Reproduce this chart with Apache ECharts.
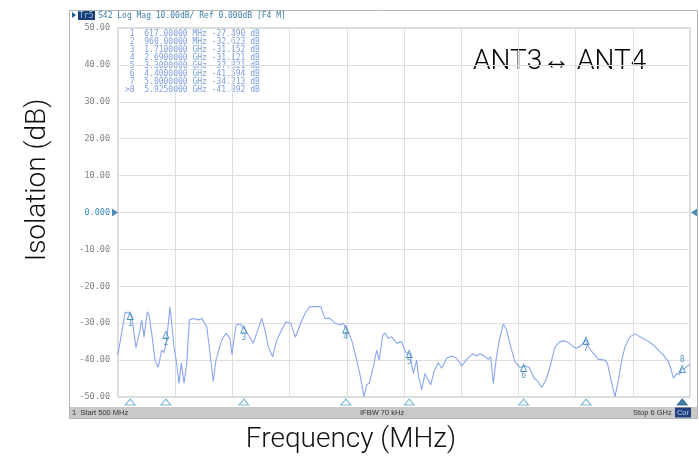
<!DOCTYPE html>
<html>
<head>
<meta charset="utf-8">
<script src="https://cdn.jsdelivr.net/npm/echarts@6/dist/echarts.min.js"></script>
<style>html,body{margin:0;padding:0;background:#fff}#c{width:699px;height:462px}</style>
</head>
<body>
<div id="c"></div>
<script>
// ---- data ----
const freqMHz = [500,567,599,632,673,712,728,750,782,801,824,856,887,920,942,968,1000,1016,1038,1064,1087,1109,1135,1161,1186,1224,1272,1305,1353,1385,1416,1442,1497,1538,1577,1596,1635,1673,1712,1753,1801,1834,1882,1913,1945,1987,2026,2074,2115,2161,2205,2250,2298,2346,2394,2449,2490,2538,2586,2635,2666,2699,2747,2795,2827,2865,2891,2916,2955,2987,3012,3045,3067,3099,3132,3180,3228,3260,3308,3339,3372,3387,3420,3452,3474,3507,3538,3580,3612,3660,3709,3757,3805,3853,3910,3949,3981,4019,4060,4083,4109,4135,4166,4205,4237,4276,4317,4365,4413,4455,4500,4526,4574,4615,4654,4702,4750,4798,4839,4878,4910,4958,5000,5023,5071,5119,5183,5206,5248,5279,5311,5344,5375,5423,5471,5519,5583,5647,5696,5744,5792,5815,5841,5873,5898,5921,5953,5985,6000];
const isoDB = [-38.5,-27.2,-27.0,-28.2,-36.7,-31.8,-29.1,-33.7,-26.9,-28.2,-32.7,-40.0,-42.0,-37.3,-38.0,-34.6,-25.5,-30.0,-36.4,-40.9,-46.3,-40.7,-46.3,-40.9,-29.1,-28.7,-29.1,-28.7,-30.9,-38.2,-45.8,-40.0,-34.6,-32.7,-34.1,-38.5,-30.5,-30.2,-31.4,-33.2,-35.4,-32.7,-28.7,-31.8,-36.4,-39.1,-34.6,-31.8,-29.6,-30.0,-33.8,-30.5,-27.3,-25.5,-25.5,-25.5,-28.7,-28.7,-30.0,-30.5,-30.0,-31.8,-34.6,-40.0,-44.0,-49.9,-46.7,-46.3,-41.8,-37.3,-40.0,-33.2,-32.7,-34.1,-33.7,-35.4,-35.0,-37.7,-38.5,-43.6,-40.0,-44.0,-48.1,-43.6,-44.9,-46.7,-43.1,-40.7,-42.2,-39.5,-38.9,-39.5,-41.6,-39.8,-38.3,-38.9,-38.3,-38.9,-39.8,-39.1,-46.3,-40.0,-34.6,-30.2,-31.8,-36.4,-40.4,-42.0,-41.6,-42.0,-44.9,-45.4,-47.4,-45.4,-41.8,-36.4,-35.0,-34.8,-35.4,-36.4,-36.8,-35.9,-34.5,-36.4,-38.2,-39.8,-40.0,-40.9,-46.3,-49.9,-45.4,-40.0,-36.4,-33.7,-32.9,-33.7,-34.6,-35.9,-37.3,-38.6,-40.4,-42.2,-44.9,-43.6,-44.0,-42.4,-42.2,-41.3,-41.5];
const markerNo = [1,2,3,4,5,6,7,8];
const markerFreq = [617,960,1710,2690,3300,4400,5000,5925];
const markerVal = [-27.490,-32.623,-31.152,-31.121,-37.821,-41.594,-34.213,-41.892];
const activeMarker = 8;
const yMin = -50, yMax = 50, yStep = 10;
const xStart = 500, xStop = 6000;
const headerText = 'S42 Log Mag 10.00dB/ Ref 0.000dB [F4 M]';
const traceName = 'Tr5';
const statusLeft = '1  Start 500 MHz', statusMid = 'IFBW 70 kHz', statusRight = 'Stop 6 GHz', statusCor = 'Cor';
const titleY = 'Isolation (dB)', titleX = 'Frequency (MHz)', annot = 'ANT3\u2194 ANT4';

// ---- chart ----
const chart = echarts.init(document.getElementById('c'), null, {renderer: 'canvas'});
const traceData = freqMHz.map((f, i) => [f, isoDB[i]]);
const mono = '"DejaVu Sans Mono", monospace';
const markerColor = '#2f7fb3';

function fmtFreq(f) {
  return f < 1000 ? f.toFixed(5) + ' MHz' : (f / 1000).toFixed(7) + ' GHz';
}
const tableLines = markerNo.map((n, i) =>
  (n === activeMarker ? '>' + n : ' ' + n) + '  ' + fmtFreq(markerFreq[i]) + ' ' + markerVal[i].toFixed(3) + ' dB');

const graphics = [
  {type: 'rect', shape: {x: 69.5, y: 10.5, width: 628, height: 408}, style: {fill: 'none', stroke: '#b4b4b4', lineWidth: 1}, z: 0, silent: true},
  // header
  {type: 'polygon', shape: {points: [[72, 12], [76, 15], [72, 18]]}, style: {fill: '#1f5f95'}},
  {type: 'rect', shape: {x: 78, y: 11, width: 17, height: 9}, style: {fill: '#1c3f78'}},
  {type: 'text', x: 79, y: 15.5, style: {text: traceName, font: '8px ' + mono, fill: '#9cc4ee', verticalAlign: 'middle'}},
  {type: 'text', x: 98, y: 15.5, style: {text: headerText, font: '8px ' + mono, fill: '#3d7fa8', verticalAlign: 'middle'}},
  // status bar
  {type: 'rect', shape: {x: 70, y: 407, width: 627, height: 11}, style: {fill: '#c9c9c9'}},
  {type: 'text', x: 72, y: 412.5, style: {text: statusLeft, font: '7.5px "Liberation Sans", sans-serif', fill: '#333', verticalAlign: 'middle'}},
  {type: 'text', x: 360, y: 412.5, style: {text: statusMid, font: '7.5px "Liberation Sans", sans-serif', fill: '#333', verticalAlign: 'middle'}},
  {type: 'text', x: 633, y: 412.5, style: {text: statusRight, font: '7.5px "Liberation Sans", sans-serif', fill: '#333', verticalAlign: 'middle'}},
  {type: 'rect', shape: {x: 675, y: 407.5, width: 16, height: 10}, style: {fill: '#23407e'}},
  {type: 'text', x: 683, y: 412.5, style: {text: statusCor, font: '7.5px "Liberation Sans", sans-serif', fill: '#b9d3f2', align: 'center', verticalAlign: 'middle'}},
  // titles
  {type: 'text', x: 38, y: 180, rotation: Math.PI / 2, style: {text: titleY, font: '300 28px Roboto, sans-serif', fill: '#111', align: 'center', verticalAlign: 'middle'}},
  {type: 'text', x: 351, y: 440, style: {text: titleX, font: '300 28px Roboto, sans-serif', fill: '#111', align: 'center', verticalAlign: 'middle'}},
  {type: 'text', x: 473, y: 62, style: {text: annot, font: '300 28px Roboto, sans-serif', fill: '#000', verticalAlign: 'middle'}}
];
tableLines.forEach((t, i) => {
  graphics.push({type: 'text', x: 125, y: 33.5 + i * 8, style: {text: t, font: '8px ' + mono, fill: '#7c9ee0', verticalAlign: 'middle'}});
});

const option = {
  animation: false,
  backgroundColor: '#fff',
  grid: {left: 118, right: 9, top: 28, bottom: 65, show: true, borderColor: '#b5b5b5', borderWidth: 1, backgroundColor: 'transparent'},
  xAxis: [
    {type: 'value', min: xStart, max: xStop, axisLine: {show: false}, axisTick: {show: false}, axisLabel: {show: false}, splitLine: {show: false}},
    {type: 'value', min: 0, max: 10, interval: 1, position: 'bottom', axisLine: {show: false}, axisTick: {show: false}, axisLabel: {show: false}, splitLine: {show: true, lineStyle: {color: '#dedede', width: 1}}}
  ],
  yAxis: {
    type: 'value', min: yMin, max: yMax, interval: yStep,
    axisLine: {show: false}, axisTick: {show: false},
    splitLine: {show: true, lineStyle: {color: '#dedede', width: 1}},
    axisLabel: {
      margin: 8, fontFamily: 'DejaVu Sans Mono', fontSize: 8.5,
      formatter: v => v === 0 ? '{z|0.000}' : v.toFixed(2),
      color: '#808080',
      rich: {z: {color: '#3f8cc0', fontFamily: 'DejaVu Sans Mono', fontSize: 8.5}}
    }
  },
  graphic: graphics,
  series: [
    {type: 'line', data: traceData, showSymbol: false, lineStyle: {color: '#8aa6ee', width: 1.1}, z: 3},
    {type: 'scatter', data: markerFreq.map((f, i) => ({value: [f, markerVal[i]], no: markerNo[i]})),
      symbol: 'triangle', symbolSize: [6, 7], symbolOffset: [0, 2],
      itemStyle: {color: 'rgba(255,255,255,0)', borderColor: markerColor, borderWidth: 1},
      label: {show: true, position: 'bottom', distance: 0, fontSize: 8, fontFamily: mono, color: markerColor,
        formatter: p => String(markerNo[p.dataIndex])},
      z: 4},
    {type: 'scatter', clip: false, data: markerFreq.map((f, i) => ({
        value: [f, yMin],
        itemStyle: markerNo[i] === activeMarker ? {color: '#1b5c92', borderColor: '#1b5c92'} : {color: '#fff', borderColor: '#5ea3cc'}
      })),
      symbol: 'triangle', symbolSize: [10, 6], symbolOffset: [0, 5], itemStyle: {borderWidth: 1}, z: 5},
    {type: 'scatter', clip: false, data: [[xStart, 0]], symbol: 'triangle', symbolRotate: -90, symbolSize: [8, 6], symbolOffset: [-3, 0], itemStyle: {color: '#1f6fa3'}, z: 6},
    {type: 'scatter', clip: false, data: [[xStop, 0]], symbol: 'triangle', symbolRotate: 90, symbolSize: [8, 6], symbolOffset: [4, 0], itemStyle: {color: '#1f6fa3'}, z: 6}
  ]
};
// marker 8 label above
option.series[1].data[markerNo.indexOf(activeMarker)].label = {position: 'top', distance: 1};
chart.setOption(option);
</script>
</body>
</html>
